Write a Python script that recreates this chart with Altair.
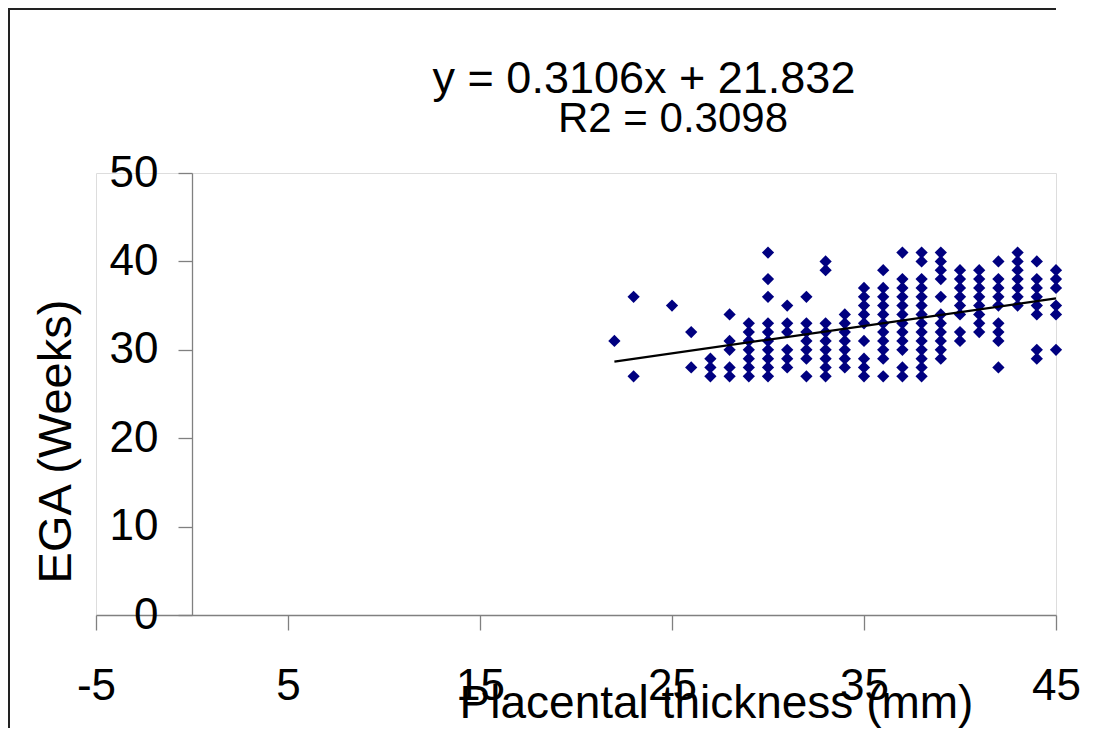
import altair as alt
import pandas as pd

# Placental thickness (mm) values and the EGA (weeks) values plotted at each
thickness_mm = [22, 23, 25, 26, 27, 28, 29, 30, 31, 32, 33, 34,
                35, 36, 37, 38, 39, 40, 41, 42, 43, 44, 45]
ega_weeks = [
    [31],
    [36, 27],
    [35],
    [32, 28],
    [29, 28, 27],
    [34, 31, 30, 28, 27],
    [33, 32, 31, 30, 29, 28, 27],
    [41, 38, 36, 33, 32, 31, 30, 29, 28, 27],
    [35, 33, 32, 30, 29, 28],
    [36, 33, 32, 31, 30, 29, 27],
    [40, 39, 33, 32, 31, 30, 29, 28, 27],
    [34, 33, 32, 31, 30, 29, 28],
    [37, 36, 35, 34, 33, 31, 29, 28, 27],
    [39, 37, 36, 35, 34, 33, 32, 31, 30, 29, 27],
    [41, 38, 37, 36, 35, 34, 33, 32, 31, 30, 28, 27],
    [41, 40, 38, 37, 36, 35, 34, 33, 32, 31, 30, 29, 28, 27],
    [41, 40, 39, 38, 36, 34, 33, 32, 31, 30, 29],
    [39, 38, 37, 36, 35, 34, 32, 31],
    [39, 38, 37, 36, 35, 34, 33, 32],
    [40, 38, 37, 36, 35, 33, 32, 31, 28],
    [41, 40, 39, 38, 37, 36, 35],
    [40, 38, 37, 36, 35, 34, 30, 29],
    [39, 38, 37, 35, 34, 30],
]

# Linear trendline end points (as drawn)
trend_x = [22, 45]
trend_y = [28.66, 35.81]

equation_text = "y = 0.3106x + 21.832"
r2_text = "R2 = 0.3098"

x_ticks = [-5, 5, 15, 25, 35, 45]
y_ticks = [0, 10, 20, 30, 40, 50]

rows = []
for xv, ys in zip(thickness_mm, ega_weeks):
    for yv in ys:
        rows.append({"x": xv, "y": yv})
points_df = pd.DataFrame(rows)
trend_df = pd.DataFrame({"x": trend_x, "y": trend_y})

FONT = "Liberation Sans"
AXIS_GRAY = "#808080"

x_scale = alt.Scale(domain=[-5, 45], nice=False, zero=False)
y_scale = alt.Scale(domain=[0, 50], nice=False, zero=False)

x_axis = alt.Axis(
    values=x_ticks, grid=False, domainColor=AXIS_GRAY, tickColor=AXIS_GRAY,
    domainWidth=1.3, tickWidth=1.3, tickSize=15, labelFontSize=44,
    labelColor="black", labelFont=FONT, labelPadding=69,
    labelBaseline="alphabetic", labelAlign="center", labelFlush=False,
    labelOverlap=False, labelExpr="'' + datum.value",
    title="Placental thickness (mm)", titleFontSize=46,
    titleFont=FONT, titleFontWeight="normal", titleColor="black",
    titleX=620, titleY=102, titleAlign="center", titleBaseline="alphabetic",
    titleAngle=0,
)
y_axis = alt.Axis(
    values=y_ticks, grid=False, domainColor=AXIS_GRAY, tickColor=AXIS_GRAY,
    domainWidth=1.3, tickWidth=1.3, tickSize=14, labelFontSize=44,
    labelColor="black", labelFont=FONT, labelPadding=20,
    labelAlign="right", labelBaseline="middle", labelFlush=False,
    labelOverlap=False, labelExpr="'' + datum.value", offset=-96,
    title="EGA (Weeks)", titleFontSize=47,
    titleFont=FONT, titleFontWeight="normal", titleColor="black",
    titleX=-122, titleY=268, titleAlign="center", titleBaseline="alphabetic",
    titleAngle=270,
)

points = alt.Chart(points_df).mark_point(
    shape="diamond", filled=True, color="#000080", size=150, opacity=1
).encode(
    x=alt.X("x:Q", scale=x_scale, axis=x_axis),
    y=alt.Y("y:Q", scale=y_scale, axis=y_axis),
)

trend = alt.Chart(trend_df).mark_line(color="black", strokeWidth=2.2).encode(
    x=alt.X("x:Q", scale=x_scale),
    y=alt.Y("y:Q", scale=y_scale),
)

one = alt.Data(values=[{"k": 0}])

eq1 = alt.Chart(one).mark_text(
    text=equation_text, font=FONT, fontSize=45, color="black",
    align="center", baseline="alphabetic"
).encode(x=alt.value(548), y=alt.value(-80))

eq2 = alt.Chart(one).mark_text(
    text=r2_text, font=FONT, fontSize=42, color="black",
    align="center", baseline="alphabetic"
).encode(x=alt.value(577), y=alt.value(-41))

border_top = alt.Chart(one).mark_rule(color="#222222", strokeWidth=2).encode(
    x=alt.value(-88), x2=alt.value(960), y=alt.value(-164)
)
border_left = alt.Chart(one).mark_rule(color="#222222", strokeWidth=2).encode(
    x=alt.value(-87), y=alt.value(-165), y2=alt.value(600)
)

chart = alt.layer(points, trend, eq1, eq2, border_top, border_left).properties(
    width=960,
    height=442,
    padding={"left": 88, "top": 165, "right": 36, "bottom": 113},
    autosize=alt.AutoSizeParams(type="none"),
).configure_view(stroke=None).configure(font=FONT)

chart.save("out.html", embed_options={"renderer": "svg", "actions": False})
